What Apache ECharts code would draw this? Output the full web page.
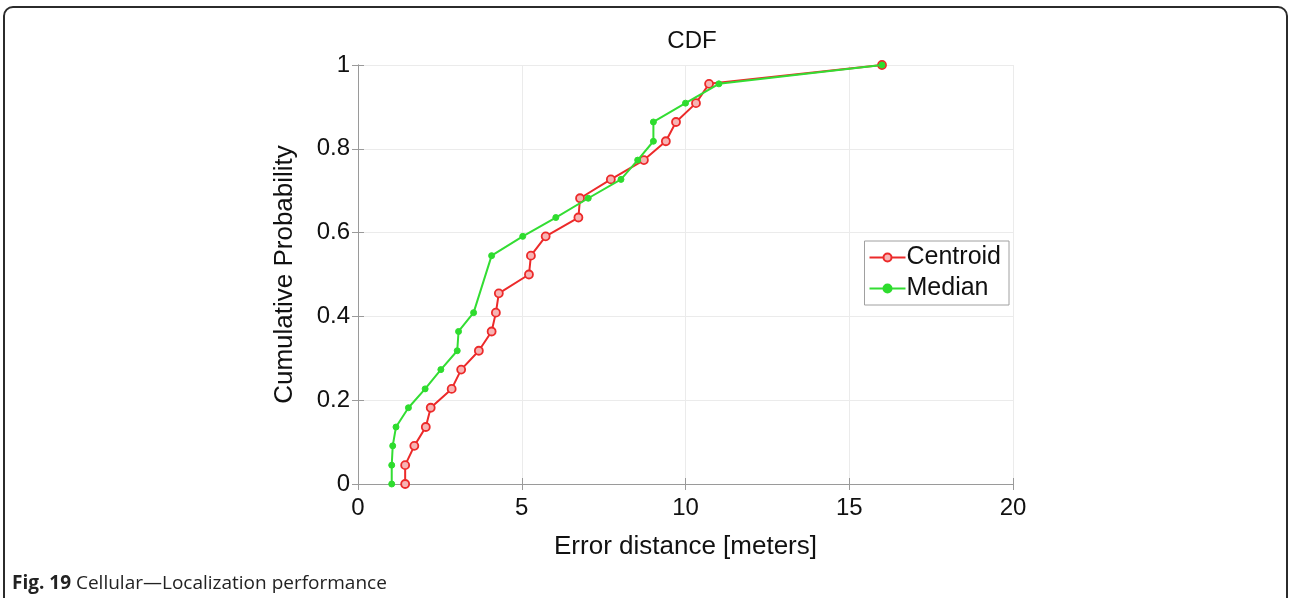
<!DOCTYPE html>
<html>
<head>
<meta charset="utf-8">
<script src="https://cdn.jsdelivr.net/npm/echarts@6/dist/echarts.min.js"></script>
<style>
html,body{margin:0;padding:0;background:#fff;width:1290px;height:598px;overflow:hidden;}
#frame{position:absolute;left:3px;top:6px;width:1281px;height:620px;border:2px solid #2b2b2b;border-radius:10px;}
#chart{position:absolute;left:0;top:0;width:1290px;height:598px;}
#cap{position:absolute;left:12px;top:569px;font-family:"Open Sans","Noto Sans",sans-serif;font-size:19px;color:#222;}
</style>
</head>
<body>
<div id="frame"></div>
<div id="chart"></div>
<div id="cap"><b>Fig. 19</b> Cellular—Localization performance</div>
<script>
const centroidX = [1.44,1.44,1.72,2.07,2.22,2.86,3.15,3.69,4.08,4.21,4.30,5.22,5.28,5.73,6.73,6.78,7.72,8.73,9.40,9.71,10.32,10.72,16.0];
const centroidY = [0,0.045,0.091,0.136,0.182,0.227,0.273,0.318,0.364,0.409,0.455,0.5,0.545,0.591,0.636,0.682,0.727,0.773,0.818,0.864,0.909,0.955,1];
const medianX = [1.03,1.03,1.06,1.16,1.54,2.05,2.53,3.03,3.07,3.53,4.08,5.03,6.04,7.03,8.03,8.54,9.02,9.02,10.0,11.02,16.0];
const medianY = [0,0.045,0.091,0.136,0.182,0.227,0.273,0.318,0.364,0.409,0.545,0.591,0.636,0.682,0.727,0.773,0.818,0.864,0.909,0.955,1];
const xTicks = [0,5,10,15,20];
const yTicks = [0,0.2,0.4,0.6,0.8,1];

const font = '"Liberation Sans", Arial, sans-serif';
const pair = (xs, ys) => xs.map((x, i) => [x, ys[i]]);
const axisCol = '#9a9a9a';

const chart = echarts.init(document.getElementById('chart'), null, {renderer: 'canvas'});
chart.setOption({
  animation: false,
  title: {text: 'CDF', left: 687, top: 24, textAlign: 'center',
    textStyle: {fontFamily: font, fontSize: 24, fontWeight: 'normal', color: '#111'}},
  grid: {left: 358, top: 65, width: 655, height: 419},
  legend: {
    right: 281, top: 241, orient: 'vertical',
    data: ['Centroid', 'Median'],
    backgroundColor: '#fff', borderColor: '#a0a0a0', borderWidth: 1, borderRadius: 0,
    padding: [4, 8, 4, 4], itemGap: 6, itemWidth: 36, itemHeight: 10,
    textStyle: {fontFamily: font, fontSize: 25, color: '#111', padding: [0,0,0,-4]}
  },
  xAxis: [{
    type: 'value', min: 0, max: 20, interval: 5,
    name: 'Error distance [meters]', nameLocation: 'middle', nameGap: 50,
    nameTextStyle: {fontFamily: font, fontSize: 26, color: '#111'},
    axisLine: {show: true, lineStyle: {color: axisCol, width: 1}},
    axisTick: {show: true, inside: true, length: 6, lineStyle: {color: axisCol}},
    axisLabel: {fontFamily: font, fontSize: 24, color: '#111', margin: 12,
      customValues: xTicks},
    splitLine: {show: true, lineStyle: {color: '#ebebeb', width: 1}}
  }, {
    type: 'value', min: 0, max: 20, interval: 5, position: 'top',
    axisLine: {show: true, lineStyle: {color: axisCol, width: 1}},
    axisTick: {show: true, inside: true, length: 6, lineStyle: {color: axisCol}},
    axisLabel: {show: false}, splitLine: {show: false}
  }],
  yAxis: [{
    type: 'value', min: 0, max: 1, interval: 0.2,
    name: 'Cumulative Probability', nameLocation: 'middle', nameGap: 60,
    nameTextStyle: {fontFamily: font, fontSize: 26, color: '#111'},
    axisLine: {show: true, lineStyle: {color: axisCol, width: 1}},
    axisTick: {show: true, inside: true, length: 6, lineStyle: {color: axisCol}},
    axisLabel: {fontFamily: font, fontSize: 24, color: '#111', margin: 8,
      formatter: v => String(Math.round(v * 10) / 10)},
    splitLine: {show: true, lineStyle: {color: '#ebebeb', width: 1}}
  }, {
    type: 'value', min: 0, max: 1, interval: 0.2, position: 'right',
    axisLine: {show: true, lineStyle: {color: axisCol, width: 1}},
    axisTick: {show: true, inside: true, length: 6, lineStyle: {color: axisCol}},
    axisLabel: {show: false}, splitLine: {show: false}
  }],
  series: [{
    name: 'Centroid', type: 'line', data: pair(centroidX, centroidY),
    symbol: 'circle', symbolSize: 8, z: 3,
    lineStyle: {color: '#ec2a2a', width: 2},
    itemStyle: {color: '#f7b4b4', borderColor: '#ec2a2a', borderWidth: 1.8}
  }, {
    name: 'Median', type: 'line', data: pair(medianX, medianY),
    symbol: 'circle', symbolSize: 6, z: 4,
    lineStyle: {color: '#33dd33', width: 2},
    itemStyle: {color: '#2edc2e', borderColor: '#2edc2e', borderWidth: 1}
  }]
});
</script>
</body>
</html>
